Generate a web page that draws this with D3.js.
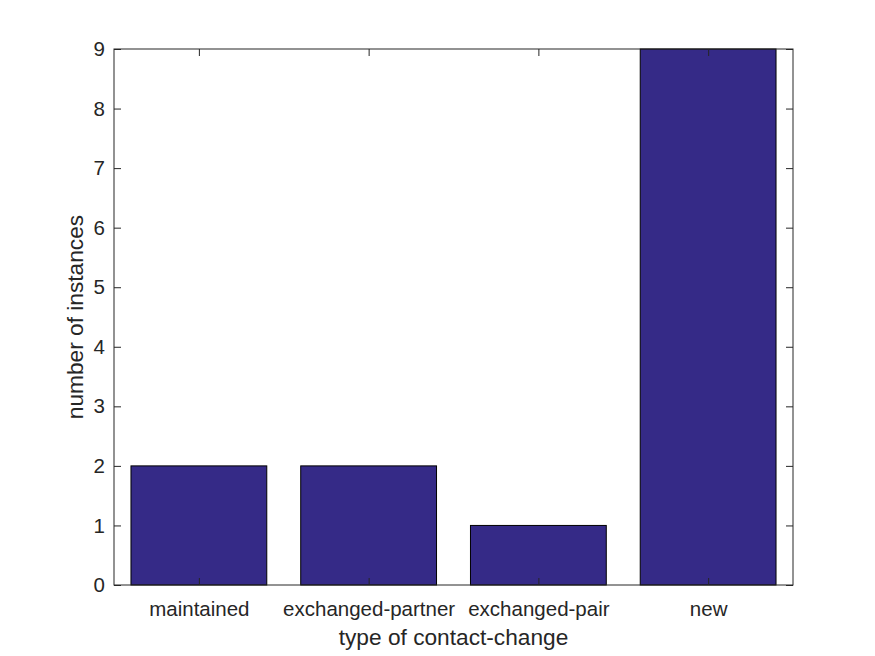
<!DOCTYPE html>
<html><head><meta charset="utf-8">
<script src="https://cdn.jsdelivr.net/npm/d3@7/dist/d3.min.js"></script>
<style>body{margin:0;background:#fff;}svg{display:block;}</style>
</head><body>
<script>
const categories = ["maintained","exchanged-partner","exchanged-pair","new"];
const counts = [2,2,1,9];
const yTicks = [0,1,2,3,4,5,6,7,8,9];

const W=875,H=656;
const m={l:114,r:82,t:49,b:71};
const iw=W-m.l-m.r, ih=H-m.t-m.b;
const svg=d3.select("body").append("svg").attr("width",W).attr("height",H);
const g=svg.append("g").attr("transform",`translate(${m.l},${m.t})`);
const x=d3.scaleLinear().domain([0.5,4.5]).range([0,iw]);
const y=d3.scaleLinear().domain([0,9]).range([ih,0]);
const bw=(x(1.8)-x(1));
const font="Helvetica, Arial, 'Liberation Sans', sans-serif";
const tc="#262626";

g.selectAll("rect.bar").data(counts).enter().append("rect")
 .attr("x",(d,i)=>x(i+1)-bw/2).attr("width",bw)
 .attr("y",d=>y(d)).attr("height",d=>ih-y(d))
 .attr("fill","#352a87").attr("stroke","#000").attr("stroke-width",1);

// frame
g.append("rect").attr("x",0).attr("y",0).attr("width",iw).attr("height",ih)
 .attr("fill","none").attr("stroke",tc).attr("stroke-width",1);

const tl=7;
const yAx=d3.axisLeft(y).tickValues(yTicks).tickSize(-tl).tickPadding(9).tickFormat(d3.format("d"));
const ya=g.append("g").call(yAx);
const yr=g.append("g").attr("transform",`translate(${iw},0)`).call(d3.axisRight(y).tickValues(yTicks).tickSize(-tl).tickFormat(""));
const xAx=d3.axisBottom(x).tickValues([1,2,3,4]).tickSize(-tl).tickPadding(16.5).tickFormat((d)=>categories[d-1]);
const xa=g.append("g").attr("transform",`translate(0,${ih})`).call(xAx);
const xt=g.append("g").call(d3.axisTop(x).tickValues([1,2,3,4]).tickSize(-tl).tickFormat(""));
[ya,yr,xa,xt].forEach(a=>{
  a.select(".domain").remove();
  a.selectAll("line").attr("stroke",tc);
  a.selectAll("text").attr("fill",tc).style("font-family",font).style("font-size","20.5px");
});

svg.append("text").attr("x",m.l+iw/2).attr("y",645).attr("text-anchor","middle")
 .attr("fill",tc).style("font-family",font).style("font-size","22.7px").text("type of contact-change");
svg.append("text").attr("transform",`translate(83,${m.t+ih/2}) rotate(-90)`).attr("text-anchor","middle")
 .attr("fill",tc).style("font-family",font).style("font-size","22.7px").text("number of instances");
</script>
</body></html>
